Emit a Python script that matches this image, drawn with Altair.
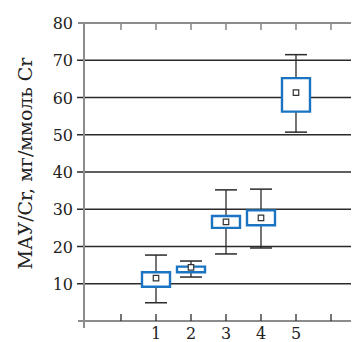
import altair as alt
import pandas as pd

groups = [1, 2, 3, 4, 5]
whisker_low = [4.9, 11.8, 18.0, 19.6, 50.7]
box_low = [9.2, 13.1, 25.0, 25.7, 56.2]
box_high = [13.1, 14.6, 28.2, 29.7, 65.2]
whisker_high = [17.7, 16.1, 35.2, 35.4, 71.5]
means = [11.5, 14.4, 26.6, 27.7, 61.3]

x_ticks = [0, 1, 2, 3, 4, 5, 6]
x_labels = ["1", "2", "3", "4", "5"]
y_grid_dark = [10, 20, 30, 40, 50, 60, 70]
y_grid_grey = [0, 80]
y_labels = ["10", "20", "30", "40", "50", "60", "70", "80"]
y_title = "МАУ/Cr, мг/ммоль Cr"

W = 267
H = 298
XMIN = -1.057
XMAX = XMIN + W / 35.0
YMIN, YMAX = 0, 80
XLEFT = XMIN - 7 / 35.0

df = pd.DataFrame({
    "g": groups, "wl": whisker_low, "bl": box_low, "bh": box_high,
    "wh": whisker_high, "m": means,
})
df["bx1"] = df["g"] - 0.4
df["bx2"] = df["g"] + 0.4
df["cx1"] = df["g"] - 0.315
df["cx2"] = df["g"] + 0.315

FONT = "DejaVu Serif"
GREY = "#8c8c8c"
DARK = "#2a2a2a"
BLUE = "#1a74c2"

xs = alt.Scale(domain=[XMIN, XMAX], nice=False, zero=False)
ys = alt.Scale(domain=[YMIN, YMAX], nice=False, zero=False)
pu = 80.0 / H

y_axis = alt.Axis(
    labels=False, ticks=False, domain=False, grid=False,
    title=y_title, titleFont=FONT, titleFontSize=19,
    titleFontWeight="normal", titleColor="#222",
    titleX=-59, titleY=140, titleAlign="center", titleBaseline="middle", titleAngle=270,
)

base = alt.Chart(df)

axes_layer = base.mark_point(opacity=0).encode(
    x=alt.X("g:Q", scale=xs, axis=None),
    y=alt.Y("m:Q", scale=ys, axis=y_axis),
)

gd = pd.DataFrame({"y": y_grid_dark, "x1": XLEFT, "x2": XMAX})
grid_dark = alt.Chart(gd).mark_rule(color=DARK, strokeWidth=1.3).encode(
    x=alt.X("x1:Q", scale=xs), x2="x2:Q", y=alt.Y("y:Q", scale=ys))
gg = pd.DataFrame({"y": y_grid_grey, "x1": XMIN - 6 / 35.0, "x2": XMAX})
grid_grey = alt.Chart(gg).mark_rule(color=GREY, strokeWidth=2).encode(
    x=alt.X("x1:Q", scale=xs), x2="x2:Q", y=alt.Y("y:Q", scale=ys))

left_line = alt.Chart(pd.DataFrame({"x": [XMIN], "y1": [-7 * pu], "y2": [YMAX]})).mark_rule(
    color=GREY, strokeWidth=2).encode(
    x=alt.X("x:Q", scale=xs), y=alt.Y("y1:Q", scale=ys), y2="y2:Q")

tdf = pd.DataFrame({"x": x_ticks})
tdf["b1"] = 0.0
tdf["b2"] = 7 * pu
tdf["t1"] = 80.0
tdf["t2"] = 80 - 7 * pu
bottom_ticks = alt.Chart(tdf).mark_rule(color=DARK, strokeWidth=1.3).encode(
    x=alt.X("x:Q", scale=xs), y=alt.Y("b1:Q", scale=ys), y2="b2:Q")
top_ticks = alt.Chart(tdf).mark_rule(color=GREY, strokeWidth=1.6).encode(
    x=alt.X("x:Q", scale=xs), y=alt.Y("t1:Q", scale=ys), y2="t2:Q")

yl = pd.DataFrame({"t": y_labels, "y": [float(v) for v in y_labels], "x": XMIN})
y_text = alt.Chart(yl).mark_text(font=FONT, fontSize=16, color="#222", align="right",
                                 baseline="middle", dx=-11, dy=1).encode(
    x=alt.X("x:Q", scale=xs), y=alt.Y("y:Q", scale=ys), text="t:N")

xl = pd.DataFrame({"t": x_labels, "x": [float(v) for v in x_labels], "y": 0.0})
x_text = alt.Chart(xl).mark_text(font=FONT, fontSize=16, color="#222", align="center",
                                 baseline="top", dy=5).encode(
    x=alt.X("x:Q", scale=xs), y=alt.Y("y:Q", scale=ys), text="t:N")

whisk = base.mark_rule(color=DARK, strokeWidth=1.3).encode(
    x=alt.X("g:Q", scale=xs), y=alt.Y("wl:Q", scale=ys), y2="wh:Q")
cap_lo = base.mark_rule(color=DARK, strokeWidth=1.5).encode(
    x=alt.X("cx1:Q", scale=xs), x2="cx2:Q", y=alt.Y("wl:Q", scale=ys))
cap_hi = base.mark_rule(color=DARK, strokeWidth=1.5).encode(
    x=alt.X("cx1:Q", scale=xs), x2="cx2:Q", y=alt.Y("wh:Q", scale=ys))
boxes = base.mark_rect(fill="white", stroke=BLUE, strokeWidth=2.4).encode(
    x=alt.X("bx1:Q", scale=xs), x2="bx2:Q",
    y=alt.Y("bl:Q", scale=ys), y2="bh:Q")
mean_pts = base.mark_square(size=30, fill="white", stroke="#333", strokeWidth=1.2, opacity=1).encode(
    x=alt.X("g:Q", scale=xs), y=alt.Y("m:Q", scale=ys))

chart = alt.layer(
    axes_layer, grid_dark, grid_grey, left_line, bottom_ticks, top_ticks,
    y_text, x_text, whisk, cap_lo, cap_hi, boxes, mean_pts
).properties(
    width=W, height=H,
    autosize=alt.AutoSizeParams(type="none"),
    padding={"left": 76, "top": 15, "right": 0, "bottom": 25},
    background="white",
).configure_view(stroke=None)

chart.save("out.html", embed_options={"renderer": "svg", "actions": False})
